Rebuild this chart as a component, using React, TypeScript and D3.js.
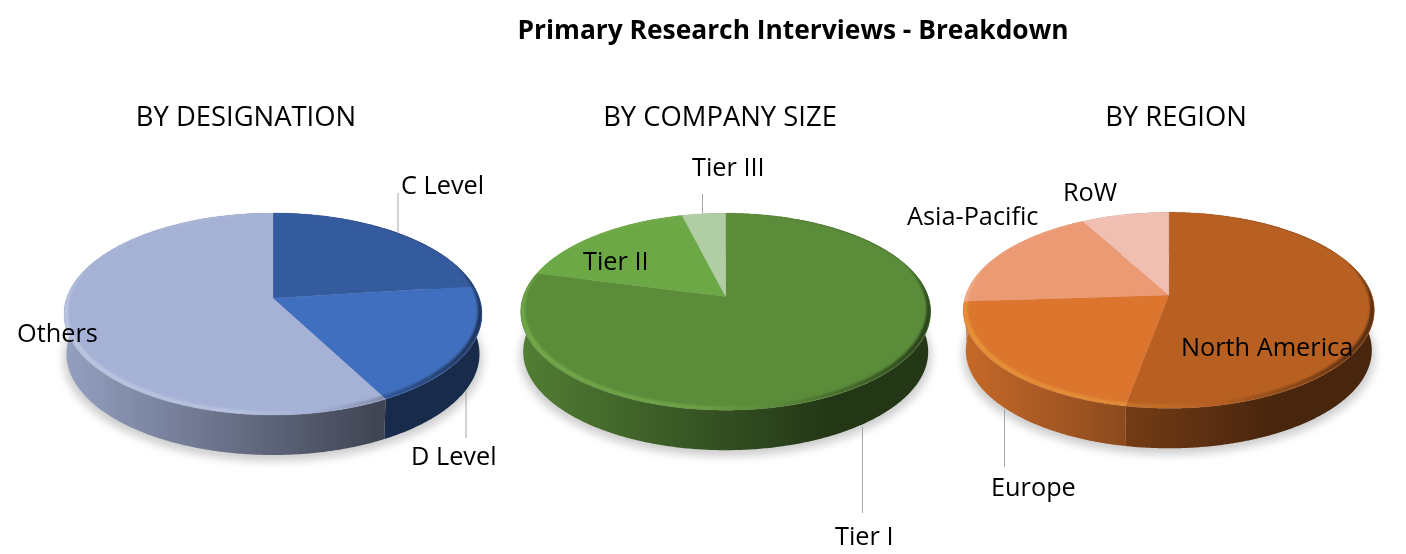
import * as d3 from 'd3';

const chartTitle = 'Primary Research Interviews - Breakdown';

const designationLabels = ['C Level', 'D Level', 'Others'];
const designationValues = [23, 19.2, 57.8];
const designationColors = ['#355b9f', '#3f6fbe', '#a5b2d6'];

const companyLabels = ['Tier I', 'Tier II', 'Tier III'];
const companyValues = [79, 17, 4];
const companyColors = ['#5b8c3a', '#6ca845', '#b0cda3'];

const regionLabels = ['North America', 'Europe', 'Asia-Pacific', 'RoW'];
const regionValues = [52.9, 21.1, 18, 8];
const regionColors = ['#b86022', '#dc752d', '#ec9a73', '#f1bfb1'];

const FONT = '"Open Sans", sans-serif';

// geometry of each pie: top ellipse, apex offset comes from the perspective
const pies = [
  {
    id: 'designation',
    heading: 'BY DESIGNATION',
    headingX: 246,
    headingY: 126,
    labels: designationLabels,
    values: designationValues,
    colors: designationColors,
    cx: 273, cy: 314, rx: 209, ry: 101, depth: 40,
    labelPos: [[401, 194], [411, 465], [17, 342]],
    leaders: [[398, 193, 398, 233], [466, 390, 466, 438]],
  },
  {
    id: 'company',
    heading: 'BY COMPANY SIZE',
    headingX: 720,
    headingY: 126,
    labels: companyLabels,
    values: companyValues,
    colors: companyColors,
    cx: 725.7, cy: 311.7, rx: 205, ry: 98.5, depth: 40,
    labelPos: [[835, 545], [583, 270], [692, 176]],
    leaders: [[702.5, 194, 702.5, 213], [862.5, 427, 862.5, 513]],
  },
  {
    id: 'region',
    heading: 'BY REGION',
    headingX: 1176,
    headingY: 126,
    labels: regionLabels,
    values: regionValues,
    colors: regionColors,
    cx: 1168.8, cy: 310.3, rx: 205.5, ry: 98, depth: 40,
    labelPos: [[1181, 356], [991, 496], [907, 225], [1063, 201]],
    leaders: [[1004.5, 409, 1004.5, 467]],
  },
];

const PERSPECTIVE = 0.155;

// pie angle (0 at top, clockwise) to a point on the unit disc seen in perspective
function project(theta: number) {
  const u = Math.sin(theta);
  const v = -Math.cos(theta);
  const a = PERSPECTIVE;
  const d = 1 - a * v;
  return [(u * Math.sqrt(1 - a * a)) / d, (v - a) / d];
}

function shade(color: string, k: number) {
  const c = d3.rgb(color);
  return d3.rgb(c.r * k, c.g * k, c.b * k).formatHex();
}

const line = d3.line();

function arcPoints(start: number, end: number) {
  const n = Math.max(2, Math.ceil((end - start) / 0.01));
  return d3.range(n + 1).map((i) => start + ((end - start) * i) / n);
}

function ellipsePath(cx: number, cy: number, rx: number, ry: number) {
  return `M${cx - rx},${cy}A${rx},${ry} 0 1 0 ${cx + rx},${cy}A${rx},${ry} 0 1 0 ${cx - rx},${cy}Z`;
}

function Pie3D({ p }: { p: (typeof pies)[number] }) {
  const slices = d3.pie<number>().sort(null)(p.values);
  const bottomRx = p.rx - 2.5;
  const bottomCy = p.cy + p.depth;
  const top = (t: number): [number, number] => {
    const [u, v] = project(t);
    return [p.cx + u * p.rx, p.cy + v * p.ry];
  };
  const bottom = (t: number): [number, number] => {
    const [u, v] = project(t);
    return [p.cx + u * bottomRx, bottomCy + v * p.ry];
  };
  const apexPoint: [number, number] = [p.cx, p.cy - PERSPECTIVE * p.ry];
  const x0 = p.cx - p.rx;
  const x1 = p.cx + p.rx;
  const ring = ellipsePath(p.cx, p.cy, p.rx, p.ry) + ellipsePath(p.cx, p.cy - 3, p.rx - 4, p.ry - 0.5);

  return (
    <g>
      <defs>
        {p.colors.map((c, i) => (
          <linearGradient
            key={c}
            id={`wall-${p.id}-${i}`}
            gradientUnits="userSpaceOnUse"
            x1={x0}
            x2={x1}
            y1={0}
            y2={0}
          >
            <stop offset="0" stopColor={shade(c, 0.9)} />
            <stop offset="0.75" stopColor={shade(c, 0.39)} />
            <stop offset="1" stopColor={shade(c, 0.39)} />
          </linearGradient>
        ))}
        <linearGradient id={`light-${p.id}`} gradientUnits="userSpaceOnUse" x1={x0} x2={x1} y1={0} y2={0}>
          <stop offset="0" stopColor="#fff" stopOpacity={0.25} />
          <stop offset="0.42" stopColor="#fff" stopOpacity={0.22} />
          <stop offset="0.6" stopColor="#fff" stopOpacity={0} />
        </linearGradient>
        <linearGradient id={`dark-${p.id}`} gradientUnits="userSpaceOnUse" x1={x0} x2={x1} y1={0} y2={0}>
          <stop offset="0.6" stopColor="#000" stopOpacity={0} />
          <stop offset="1" stopColor="#000" stopOpacity={0.55} />
        </linearGradient>
        <clipPath id={`top-${p.id}`}>
          <path d={ellipsePath(p.cx, p.cy, p.rx, p.ry)} />
        </clipPath>
      </defs>

      {/* soft shadow under the disc */}
      <ellipse
        cx={p.cx}
        cy={bottomCy + 5}
        rx={bottomRx + 3}
        ry={p.ry + 1}
        fill="#000"
        opacity={0.2}
        filter="url(#soft)"
      />

      {/* side wall */}
      {slices.map((s, i) => {
        const ts = arcPoints(s.startAngle, s.endAngle);
        const pts = [...ts.map(top), ...ts.slice().reverse().map(bottom)];
        return (
          <path key={i} d={`${line(pts)}Z`} fill={`url(#wall-${p.id}-${i})`} />
        );
      })}

      {/* top face */}
      {slices.map((s, i) => {
        const ts = arcPoints(s.startAngle, s.endAngle);
        return (
          <path
            key={i}
            d={`${line([apexPoint, ...ts.map(top)])}Z`}
            fill={p.colors[i]}
            stroke={p.colors[i]}
            strokeWidth={0.3}
          />
        );
      })}

      {/* bevel along the rim */}
      <g clipPath={`url(#top-${p.id})`} style={{ mixBlendMode: 'overlay' }}>
        <path d={ring} fillRule="evenodd" fill={`url(#light-${p.id})`} filter="url(#rim)" />
      </g>
      <g clipPath={`url(#top-${p.id})`}>
        <path d={ring} fillRule="evenodd" fill={`url(#dark-${p.id})`} filter="url(#rim)" />
      </g>

      {p.leaders.map((l, i) => (
        <line key={i} x1={l[0]} y1={l[1]} x2={l[2]} y2={l[3]} stroke="#a6a6a6" strokeWidth={1} />
      ))}

      <text x={p.headingX} y={p.headingY} textAnchor="middle" fontSize={27.4} fill="#000">
        {p.heading}
      </text>
      {p.labels.map((label, i) => (
        <text key={label} x={p.labelPos[i][0]} y={p.labelPos[i][1]} fontSize={25.3} fill="#000">
          {label}
        </text>
      ))}
    </g>
  );
}

export default function App() {
  return (
    <svg
      width={1406}
      height={554}
      style={{ position: 'absolute', left: 0, top: 0, background: '#fff' }}
      fontFamily={FONT}
    >
      <defs>
        <filter id="soft" x="-10%" y="-20%" width="120%" height="140%">
          <feGaussianBlur stdDeviation="5" />
        </filter>
        <filter id="rim" x="-5%" y="-5%" width="110%" height="110%">
          <feGaussianBlur stdDeviation="1.2" />
        </filter>
      </defs>
      <text x={793} y={39} textAnchor="middle" fontSize={26.35} fontWeight={700} fill="#000">
        {chartTitle}
      </text>
      {pies.map((p) => (
        <Pie3D key={p.id} p={p} />
      ))}
    </svg>
  );
}
